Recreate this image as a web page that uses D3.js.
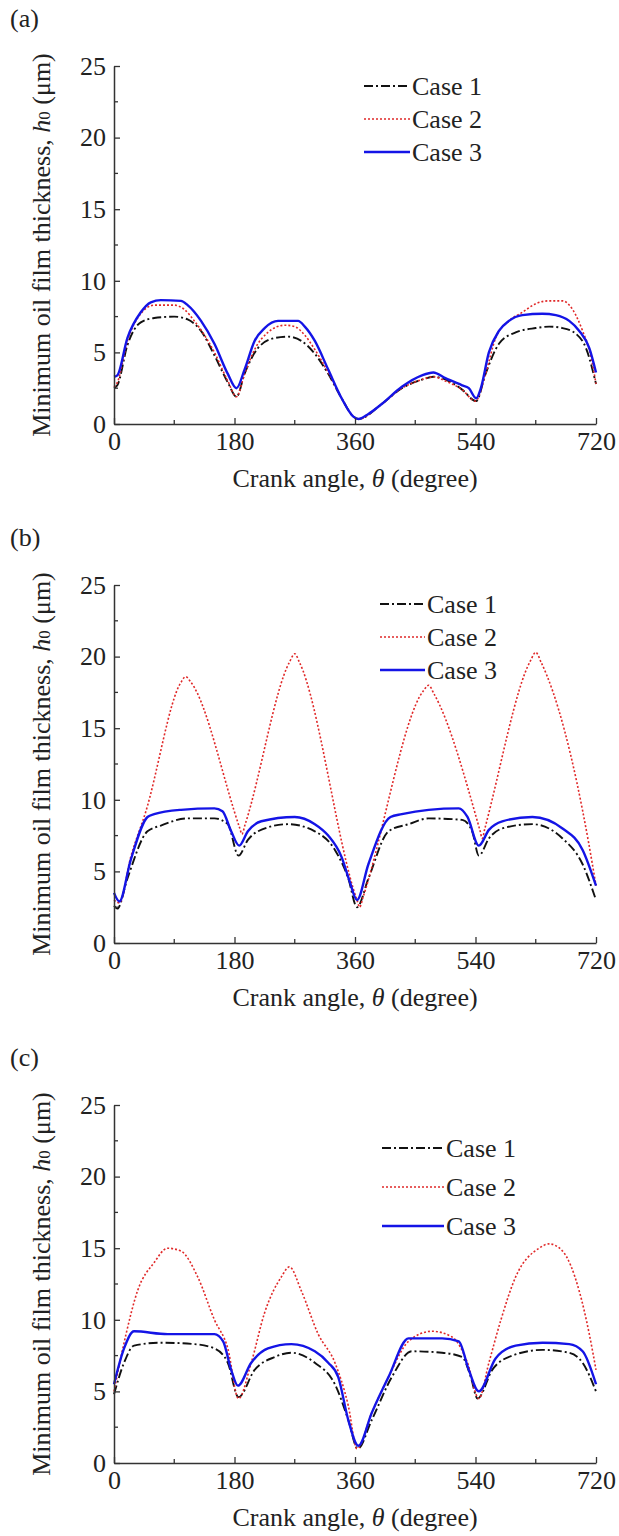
<!DOCTYPE html>
<html><head><meta charset="utf-8">
<script src="https://cdn.jsdelivr.net/npm/d3@7"></script>
<style>body{margin:0;background:#fff}svg{display:block}text{font-family:"Liberation Serif","Times New Roman",serif;fill:#222}</style>
</head><body><svg id="c" width="619" height="1536"></svg>
<script>
// ---- data ----
const seriesNames = ["Case 1", "Case 2", "Case 3"];
const xTicks = [0, 180, 360, 540, 720];
const yTicks = [0, 5, 10, 15, 20, 25];
const panelLabels = ["(a)", "(b)", "(c)"];

// panel (a)
const a1 = [[0,2.5],[5,2.7],[20,5.5],[40,7.1],[60,7.4],[90,7.5],[110,7.3],[130,6.5],[150,4.8],[170,2.9],[183,1.9],[195,3.5],[215,5.3],[240,6.0],[260,6.1],[280,5.8],[300,4.9],[320,3.5],[340,1.8],[358,0.5],[365,0.35],[400,1.4],[430,2.5],[460,3.1],[477,3.3],[500,3.0],[520,2.4],[541,1.6],[555,3.5],[575,5.6],[600,6.4],[630,6.7],[650,6.8],[670,6.7],[690,6.3],[705,5.3],[720,2.8]];
const a2 = [[0,2.6],[5,2.9],[20,5.8],[40,7.7],[60,8.3],[90,8.3],[105,8.0],[120,7.2],[150,5.0],[170,3.0],[183,1.9],[195,3.5],[210,5.2],[230,6.4],[255,6.9],[270,6.8],[285,6.2],[300,5.2],[320,3.6],[340,1.8],[358,0.5],[365,0.35],[400,1.4],[430,2.5],[460,3.1],[477,3.3],[495,3.0],[520,2.4],[540,1.6],[555,3.5],[570,6.0],[590,7.2],[610,7.8],[630,8.4],[650,8.6],[670,8.6],[685,8.0],[700,6.5],[712,4.8],[720,2.8]];
const a3 = [[0,3.3],[5,3.4],[20,6.0],[40,7.8],[55,8.5],[70,8.65],[100,8.6],[110,8.3],[130,7.2],[150,5.6],[170,3.5],[183,2.5],[195,3.8],[210,5.8],[225,6.7],[245,7.2],[275,7.2],[285,6.8],[300,5.8],[320,3.8],[340,1.8],[358,0.5],[365,0.35],[380,0.7],[400,1.4],[430,2.6],[460,3.4],[477,3.6],[495,3.2],[520,2.7],[530,2.5],[541,1.8],[548,2.5],[560,5.0],[575,6.5],[590,7.2],[610,7.6],[640,7.7],[660,7.6],[680,7.2],[695,6.5],[710,5.3],[720,3.6]];
// panel (b)
const b1 = [[0,2.6],[5,2.4],[20,4.5],[50,7.8],[70,8.2],[110,8.7],[150,8.7],[170,8.3],[186,6.1],[200,7.2],[215,7.8],[260,8.3],[300,7.8],[330,6.5],[350,4.5],[363,2.5],[380,4.5],[410,7.8],[440,8.3],[470,8.7],[520,8.6],[535,7.8],[545,6.1],[560,7.3],[580,8.0],[625,8.3],[670,7.3],[700,5.5],[720,3.0]];
const b2 = [[0,3.0],[8,2.8],[25,6.0],[47,9.1],[100,18.2],[107,18.6],[115,18.2],[188,8.0],[191,7.6],[196,8.3],[262,19.6],[270,20.2],[277,19.6],[363,3.0],[367,2.5],[372,3.2],[462,17.6],[470,18.0],[478,17.4],[547,7.8],[550,7.3],[554,8.0],[622,19.7],[630,20.3],[638,19.6],[709,7.0],[720,4.0]];
const b3 = [[0,3.5],[8,2.9],[25,5.8],[50,8.8],[60,9.0],[100,9.3],[150,9.4],[162,9.2],[175,7.8],[187,6.8],[200,7.8],[220,8.5],[270,8.8],[300,8.3],[320,7.5],[340,6.0],[352,4.3],[363,3.0],[380,5.5],[413,8.8],[430,9.0],[470,9.3],[515,9.4],[528,8.8],[545,6.8],[560,7.9],[580,8.5],[625,8.8],[670,8.0],[700,6.5],[720,4.0]];
// panel (c)
const c1 = [[0,4.8],[15,7.0],[30,8.2],[70,8.4],[120,8.3],[150,8.0],[170,7.0],[186,4.6],[210,6.5],[240,7.4],[265,7.7],[300,7.0],[330,5.5],[350,3.0],[364,1.0],[385,3.0],[415,6.0],[445,7.8],[490,7.7],[520,7.4],[533,6.0],[543,4.5],[565,6.5],[595,7.5],[640,7.9],[680,7.7],[700,7.0],[720,5.0]];
const c2 = [[0,5.0],[18,9.0],[35,12.0],[60,14.0],[80,15.0],[100,14.8],[125,13.0],[150,10.0],[170,8.0],[186,4.5],[205,7.0],[225,10.5],[250,13.0],[262,13.7],[280,12.0],[305,9.0],[330,7.0],[350,4.0],[363,1.0],[385,3.5],[410,6.0],[440,8.5],[475,9.2],[505,8.8],[528,7.0],[545,4.5],[560,7.0],[578,10.0],[600,13.0],[635,15.0],[650,15.3],[670,14.8],[695,12.0],[710,9.0],[720,6.5]];
const c3 = [[0,5.5],[15,8.0],[30,9.2],[80,9.0],[150,9.0],[163,8.5],[175,6.5],[185,5.4],[205,7.0],[230,8.0],[265,8.3],[300,7.8],[320,7.0],[335,6.0],[350,3.0],[365,1.2],[385,3.5],[410,6.0],[440,8.7],[490,8.7],[515,8.5],[530,6.5],[545,5.0],[570,7.3],[600,8.2],[640,8.4],[680,8.3],[700,7.8],[720,5.5]];

const panelData = [[a1,a2,a3],[b1,b2,b3],[c1,c2,c3]];

// ---- layout ----
const svg = d3.select("#c");
const X0 = 114, X1 = 596, H = 358;
const panelTops = [66, 585, 1105];
// [lineStart, firstRowY, rowGap, lineLength]
const legendPos = [[364, 86, 33, 46], [380, 604, 33, 45], [382, 1148, 39, 62]];
const styles = [
  {color:"#111", dash:"9,3,2,3", width:1.9},
  {color:"#e02828", dash:"2,2", width:1.6},
  {color:"#1414e6", dash:null, width:2.4}
];
const FS = 26;

const x = d3.scaleLinear().domain([0,720]).range([X0,X1]);

panelData.forEach((series, pi) => {
  const top = panelTops[pi];
  const y = d3.scaleLinear().domain([0,25]).range([top+H, top]);
  const g = svg.append("g");

  g.append("text").attr("x", 10).attr("y", top - 39).attr("font-size", FS).text(panelLabels[pi]);

  const line = d3.line().x(d=>x(d[0])).y(d=>y(d[1])).curve(d3.curveMonotoneX);
  series.forEach((s, si) => {
    const st = styles[si];
    g.append("path").datum(s).attr("d", line).attr("fill","none")
      .attr("stroke", st.color).attr("stroke-width", st.width)
      .attr("stroke-dasharray", st.dash).attr("stroke-linejoin","round");
  });

  const xAxis = d3.axisBottom(x).tickValues(xTicks).tickSizeInner(-6).tickSizeOuter(0).tickPadding(8);
  const xg = g.append("g").attr("transform", `translate(0,${top+H})`).call(xAxis);
  const yAxis = d3.axisLeft(y).tickValues(yTicks).tickSizeInner(-6).tickSizeOuter(0).tickPadding(8);
  const yg = g.append("g").attr("transform", `translate(${X0},0)`).call(yAxis);
  [xg, yg].forEach(ax => {
    ax.select(".domain").attr("stroke","#333").attr("stroke-width",1.5);
    ax.selectAll(".tick line").attr("stroke","#333").attr("stroke-width",1.3);
    ax.selectAll(".tick text").attr("font-size",FS).attr("font-family","Liberation Serif").attr("fill","#222");
  });
  const xMinor = xTicks.slice(0,-1).map((v,i)=> (v + xTicks[i+1])/2);
  g.selectAll(null).data(xMinor).enter().append("line")
    .attr("x1", d=>x(d)).attr("x2", d=>x(d)).attr("y1", top+H).attr("y2", top+H-4)
    .attr("stroke","#333").attr("stroke-width",1.3);
  const yMinor = yTicks.slice(0,-1).map((v,i)=> (v + yTicks[i+1])/2);
  g.selectAll(null).data(yMinor).enter().append("line")
    .attr("x1", X0).attr("x2", X0+4).attr("y1", d=>y(d)).attr("y2", d=>y(d))
    .attr("stroke","#333").attr("stroke-width",1.3);

  const xt = g.append("text").attr("x", (X0+X1)/2).attr("y", top+H+63).attr("text-anchor","middle").attr("font-size",FS);
  xt.append("tspan").text("Crank angle, ");
  xt.append("tspan").attr("font-style","italic").text("θ");
  xt.append("tspan").text(" (degree)");

  const yt = g.append("text").attr("transform", `translate(50,${top+H/2}) rotate(-90)`).attr("text-anchor","middle").attr("font-size",FS);
  yt.append("tspan").text("Minimum oil film thickness, ");
  yt.append("tspan").attr("font-style","italic").text("h");
  yt.append("tspan").attr("font-size",17).text("0");
  yt.append("tspan").text(" (μm)");

  const [lx, ly, ld, ll] = legendPos[pi];
  seriesNames.forEach((name, si) => {
    const st = styles[si];
    const yy = ly + si*ld;
    g.append("line").attr("x1", lx).attr("x2", lx+ll).attr("y1", yy).attr("y2", yy)
      .attr("stroke", st.color).attr("stroke-width", st.width).attr("stroke-dasharray", st.dash);
    g.append("text").attr("x", lx+ll+2).attr("y", yy+9).attr("font-size",FS).text(name);
  });
});
</script></body></html>
